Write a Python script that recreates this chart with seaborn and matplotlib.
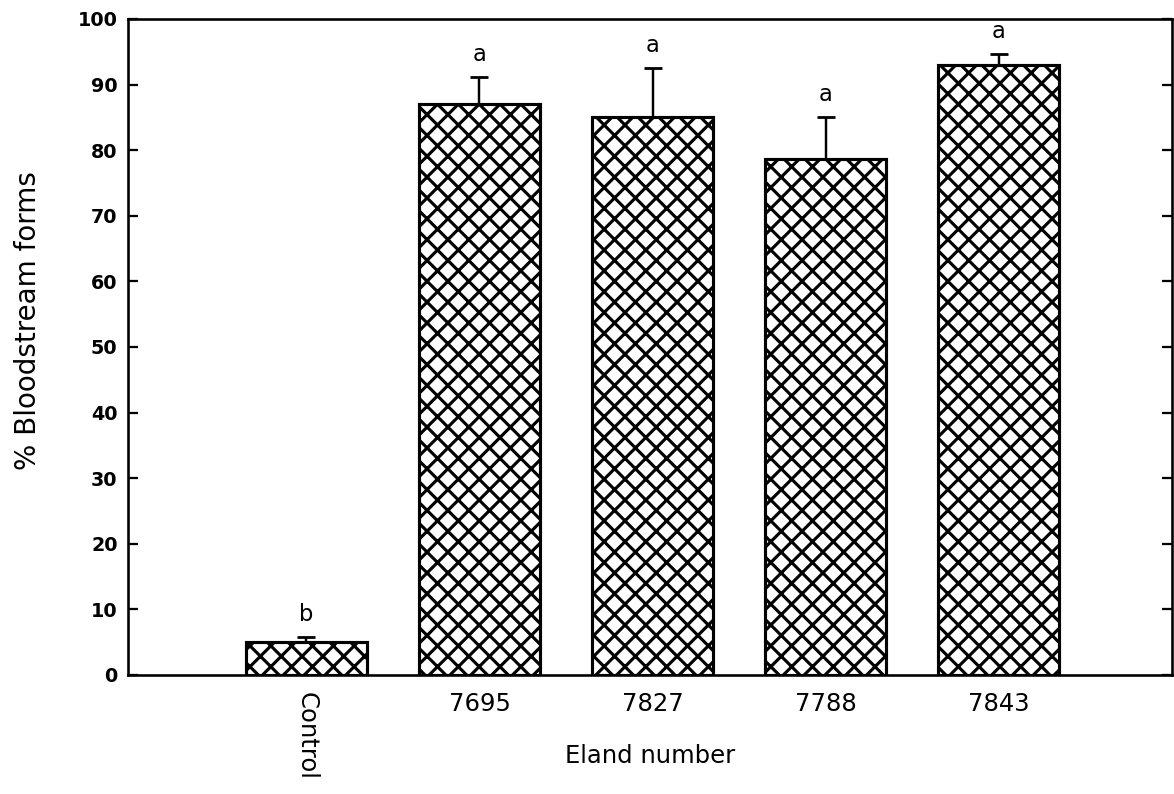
import matplotlib
matplotlib.use("Agg")
import matplotlib.pyplot as plt
import seaborn as sns
import pandas as pd
import numpy as np

# Data
categories = ["Control", "7695", "7827", "7788", "7843"]
values = [5.0, 87.1, 85.0, 78.7, 93.0]
errors = [0.8, 4.1, 7.6, 6.4, 1.7]
letters = ["b", "a", "a", "a", "a"]
y_ticks = [0, 10, 20, 30, 40, 50, 60, 70, 80, 90, 100]

sns.set_theme(style="white")
plt.rcParams['font.family'] = ['DejaVu Sans']
plt.rcParams['hatch.linewidth'] = 1.8
plt.rcParams['text.color'] = 'black'
plt.rcParams['axes.labelcolor'] = 'black'
plt.rcParams['xtick.color'] = 'black'
plt.rcParams['ytick.color'] = 'black'

DPI = 125
fig = plt.figure(figsize=(1174 / DPI, 794 / DPI), dpi=DPI)
ax = fig.add_axes([128 / 1174, 1 - 675 / 794, (1172 - 128) / 1174, (675 - 19) / 794])

df = pd.DataFrame({"cat": categories, "val": values})
sns.barplot(data=df, x="cat", y="val", ax=ax, color="white", edgecolor="black",
            linewidth=1.8, width=0.7, saturation=1, errorbar=None)
for p in ax.patches:
    p.set_hatch("xx")
    p.set_facecolor("white")
    p.set_edgecolor("black")

xpos = np.arange(len(categories))
ax.errorbar(xpos, values, yerr=[np.zeros(len(errors)), errors], fmt="none",
            ecolor="black", elinewidth=1.4, capsize=5, capthick=1.6)
for x, v, e, t in zip(xpos, values, errors, letters):
    ax.text(x, v + e + 1.6, t, ha="center", va="bottom", fontsize=13, color="black")

ax.set_xlim(-1.03, 5.0)
ax.set_ylim(0, 100)
ax.set_yticks(y_ticks)
ax.set_yticklabels([str(t) for t in y_ticks], fontsize=11, fontweight="bold")
ax.tick_params(axis="y", direction="in", left=True, right=True, length=6, width=1.3, pad=6,
               colors="black")
ax.tick_params(axis="x", length=0, pad=10, colors="black")
ax.set_xticks(xpos)
ax.set_xticklabels(categories, fontsize=14)
lbls = ax.get_xticklabels()
lbls[0].set_rotation(270)
lbls[0].set_va("top")

for s in ax.spines.values():
    s.set_visible(True)
    s.set_color("black")
    s.set_linewidth(1.5)

ax.set_ylabel("% Bloodstream forms", fontsize=16, color="black")
ax.yaxis.set_label_coords(-0.082, 0.54)
ax.set_xlabel("Eland number", fontsize=14, color="black")
ax.xaxis.set_label_coords(0.5, -0.105)

fig.savefig("out.png", dpi=DPI)
